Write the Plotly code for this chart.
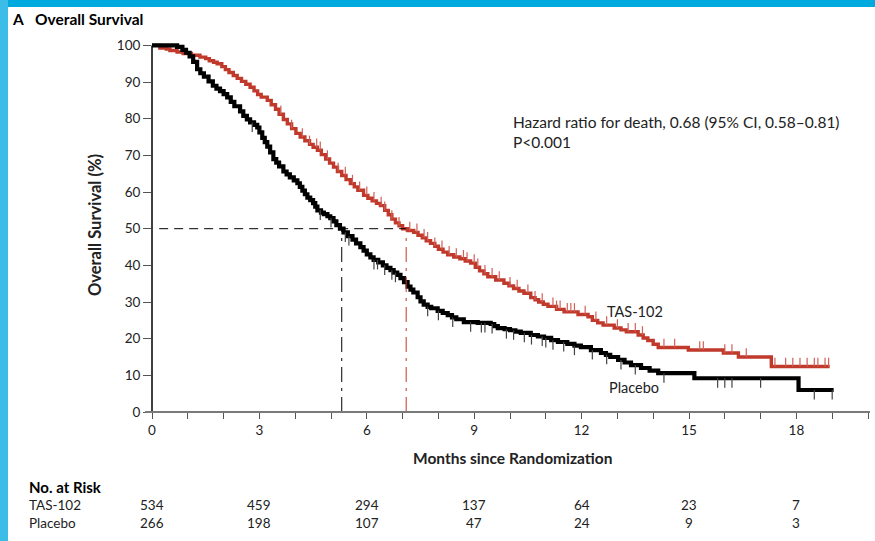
import numpy as np
import plotly.graph_objects as go

# Kaplan-Meier step estimates (months, survival %)
placebo_t = [0, 0.7, 0.85, 0.95, 1.05, 1.15, 1.26, 1.35, 1.45, 1.58, 1.7, 1.8, 1.9, 2.0, 2.1, 2.2,
             2.3, 2.46, 2.55, 2.65, 2.74, 2.85, 2.94, 3.0, 3.08, 3.15, 3.22, 3.3, 3.39, 3.47, 3.55,
             3.67, 3.76, 3.85, 3.96, 4.06, 4.13, 4.2, 4.27, 4.34, 4.42, 4.5, 4.56, 4.62, 4.72, 4.8,
             4.9, 4.98, 5.07, 5.15, 5.25, 5.35, 5.47, 5.6, 5.7, 5.82, 5.91, 6.0, 6.1, 6.19, 6.32,
             6.45, 6.55, 6.66, 6.75, 6.85, 6.94, 7.04, 7.14, 7.22, 7.3, 7.42, 7.5, 7.59, 7.7, 7.8,
             7.98, 8.12, 8.26, 8.38, 8.5, 8.71, 9.1, 9.46, 9.56, 9.66, 9.85, 10.0, 10.15, 10.3,
             10.58, 10.78, 10.95, 11.15, 11.34, 11.6, 11.8, 11.98, 12.26, 12.54, 12.68, 12.8,
             13.02, 13.2, 13.38, 13.66, 13.9, 14.14, 15.15, 18.06, 19.04]
placebo_s = [100, 99.6, 98.8, 98.0, 97.0, 95.5, 93.5, 92.4, 91.5, 90.2, 89.0, 88.2, 87.5, 86.7, 85.8,
             84.6, 83.4, 82.0, 80.8, 79.8, 79.0, 78.3, 77.6, 76.3, 74.8, 73.6, 72.4, 70.8, 69.0,
             68.0, 67.0, 65.6, 64.8, 64.0, 63.2, 62.4, 61.4, 60.4, 59.4, 58.5, 57.8, 57.0, 56.0,
             55.0, 54.4, 54.0, 53.4, 52.9, 52.0, 51.0, 50.0, 49.0, 48.0, 47.0, 46.0, 45.0, 44.0,
             43.0, 42.2, 41.5, 40.8, 40.0, 39.3, 38.7, 38.0, 37.4, 36.5, 35.4, 34.2, 33.4, 32.6,
             31.3, 30.2, 29.3, 28.7, 28.3, 27.6, 27.0, 26.4, 25.8, 25.3, 24.5, 24.3, 24.0, 23.4,
             22.9, 22.6, 22.3, 21.9, 21.6, 21.0, 20.6, 20.2, 19.6, 19.1, 18.6, 18.1, 17.7, 16.9,
             16.1, 15.6, 15.0, 14.2, 13.5, 12.8, 12.0, 11.3, 10.6, 9.2, 6.0, 6.0]

tas_t = [0, 0.22, 0.4, 0.5, 0.7, 0.87, 1.1, 1.34, 1.5, 1.6, 1.72, 1.82, 1.95, 2.05, 2.15, 2.27,
         2.38, 2.5, 2.62, 2.74, 2.85, 2.95, 3.05, 3.22, 3.33, 3.45, 3.55, 3.67, 3.78, 3.9, 4.02,
         4.14, 4.27, 4.4, 4.5, 4.62, 4.73, 4.85, 4.96, 5.07, 5.18, 5.3, 5.42, 5.54, 5.65, 5.75,
         5.91, 6.03, 6.15, 6.27, 6.38, 6.5, 6.6, 6.7, 6.8, 6.9, 7.0, 7.15, 7.31, 7.43, 7.55, 7.66,
         7.78, 7.9, 8.0, 8.13, 8.26, 8.43, 8.6, 8.75, 8.9, 9.03, 9.15, 9.27, 9.38, 9.6, 9.83, 9.97,
         10.1, 10.25, 10.39, 10.58, 10.7, 10.8, 10.93, 11.06, 11.3, 11.51, 11.9, 12.18, 12.3,
         12.45, 12.6, 12.91, 13.1, 13.25, 13.58, 13.72, 13.85, 14.0, 14.14, 14.98, 15.96, 16.38,
         17.3, 18.93]
tas_s = [100, 99.3, 99.0, 98.6, 98.2, 97.8, 97.3, 96.8, 96.4, 95.8, 95.4, 95.0, 94.2, 93.4, 92.6,
         91.8, 91.0, 90.2, 89.4, 88.6, 87.6, 86.6, 85.9, 85.0, 83.8, 82.6, 81.2, 79.8, 78.6, 77.3,
         76.0, 75.0, 74.0, 73.0, 72.2, 71.4, 70.2, 69.0, 67.9, 66.8, 65.6, 64.5, 63.4, 62.3, 61.4,
         60.5, 59.1, 58.3, 57.6, 56.9, 56.3, 55.0, 53.8, 52.6, 51.6, 50.8, 50.0, 49.5, 49.0, 48.2,
         47.5, 46.7, 46.0, 45.2, 44.4, 43.6, 42.9, 42.3, 41.8, 41.2, 40.6, 39.5, 38.5, 37.7, 36.9,
         36.0, 35.1, 34.4, 33.7, 33.0, 32.4, 31.2, 30.6, 30.0, 29.4, 28.8, 28.0, 27.3, 26.6, 26.0,
         25.0, 24.3, 23.7, 22.9, 22.4, 21.9, 21.0, 20.2, 19.5, 18.5, 17.6, 16.9, 16.1, 15.0, 12.4,
         12.4]

# Censoring times
placebo_cens = [2.8, 4.7, 5.0, 5.4, 5.5, 6.2, 6.3, 6.5, 6.7, 6.8, 7.7, 8.0, 8.4, 8.9, 9.2, 9.3,
                9.5, 9.9, 10.1, 10.4, 10.6, 10.9, 11.0, 11.2, 11.5, 11.8, 12.3, 12.7, 13.1, 13.5,
                14.3, 15.8, 16.0, 16.2, 17.0, 18.5, 19.0]
tas_cens = [3.6, 3.9, 4.2, 4.4, 4.6, 4.7, 4.9, 5.2, 5.4, 5.6, 5.8, 6.0, 6.2, 6.4, 6.5, 6.7, 6.9,
            7.2, 7.4, 7.6, 7.7, 7.9, 8.1, 8.3, 8.5, 8.7, 8.8, 9.0, 9.1, 9.3, 9.5, 9.7, 10.0, 10.2,
            10.5, 10.7, 10.9, 11.2, 11.3, 11.4, 11.6, 11.7, 11.8, 12.1, 12.4, 12.7, 13.0, 13.3,
            13.5, 13.7, 14.3, 14.6, 15.3, 15.4, 16.0, 16.2, 16.6, 17.4, 17.7, 17.9, 18.1, 18.3,
            18.5, 18.6, 18.8, 18.9]

median_placebo = 5.3
median_tas = 7.1

risk_months = [0, 3, 6, 9, 12, 15, 18]
risk_tas = [534, 459, 294, 137, 64, 23, 7]
risk_placebo = [266, 198, 107, 47, 24, 9, 3]

RED = "#C0392B"
BLACK = "#000000"
FONT = "Lato"
TXT = "#222222"

# plot-area geometry (pixels) used for paper-coordinate placement of text
L, R, T, B = 152, 7, 41, 129
W, H = 875, 541
PW, PH = W - L - R, H - T - B


def px(x):
    return (x - L) / PW


def py(y):
    return (H - B - y) / PH


def surv_at(ts, ss, t):
    i = np.searchsorted(ts, t, side="right") - 1
    return ss[i]


fig = go.Figure()

fig.add_trace(go.Scatter(x=tas_t, y=tas_s, mode="lines", line=dict(color=RED, width=3.4, shape="hv"),
                         hoverinfo="skip", showlegend=False))
fig.add_trace(go.Scatter(
    x=tas_cens, y=[surv_at(tas_t, tas_s, t) for t in tas_cens], mode="markers",
    marker=dict(size=1, color="rgba(0,0,0,0)"),
    error_y=dict(type="data", symmetric=False, array=[2.4] * len(tas_cens),
                 arrayminus=[0] * len(tas_cens), width=0, thickness=1.2, color="#D0605A"),
    hoverinfo="skip", showlegend=False))

fig.add_trace(go.Scatter(x=placebo_t, y=placebo_s, mode="lines", line=dict(color=BLACK, width=4.2, shape="hv"),
                         hoverinfo="skip", showlegend=False))
fig.add_trace(go.Scatter(
    x=placebo_cens, y=[surv_at(placebo_t, placebo_s, t) for t in placebo_cens], mode="markers",
    marker=dict(size=1, color="rgba(0,0,0,0)"),
    error_y=dict(type="data", symmetric=False, array=[0] * len(placebo_cens),
                 arrayminus=[2.6] * len(placebo_cens), width=0, thickness=1.2, color="#444444"),
    hoverinfo="skip", showlegend=False))

shapes = [
    # median reference lines
    dict(type="line", xref="x", yref="y", x0=0.2, x1=median_tas, y0=50, y1=50,
         line=dict(color=BLACK, width=1, dash="9px,6px")),
    dict(type="line", xref="x", yref="y", x0=median_placebo, x1=median_placebo, y0=0, y1=50,
         line=dict(color=BLACK, width=1, dash="longdashdot")),
    dict(type="line", xref="x", yref="y", x0=median_tas, x1=median_tas, y0=0, y1=50,
         line=dict(color=RED, width=1, dash="longdashdot")),
    # axis lines
    dict(type="line", xref="paper", yref="y", x0=0, x1=0, y0=0, y1=100,
         line=dict(color=BLACK, width=1.5)),
    dict(type="line", xref="paper", yref="paper", x0=px(145), x1=px(870), y0=0, y1=0,
         line=dict(color="#7a7a7a", width=2)),
    # page frame
    dict(type="rect", xref="paper", yref="paper", x0=px(0), x1=px(875), y0=py(0), y1=py(7),
         fillcolor="#00AADF", line=dict(width=0)),
    dict(type="rect", xref="paper", yref="paper", x0=px(0), x1=px(8), y0=py(0), y1=py(541),
         fillcolor="#3CBDE8", line=dict(width=0)),
]

ann = [
    dict(text="<b>A</b>", xref="paper", yref="paper", x=px(10), y=py(19), xanchor="left",
         yanchor="middle", showarrow=False, font=dict(size=15.5, color=BLACK)),
    dict(text="<b>Overall Survival</b>", xref="paper", yref="paper", x=px(33), y=py(19),
         xanchor="left", yanchor="middle", showarrow=False, font=dict(size=15.5, color=BLACK)),
    dict(text="<b>Overall Survival (%)</b>", xref="paper", yref="paper", x=px(95), y=py(225),
         textangle=-90, xanchor="center", yanchor="middle", showarrow=False,
         font=dict(size=16.5, color=TXT)),
    dict(text="<b>Months since Randomization</b>", xref="paper", yref="paper", x=px(512), y=py(458),
         xanchor="center", yanchor="middle", showarrow=False, font=dict(size=15.5, color=TXT)),
    dict(text="Hazard ratio for death, 0.68 (95% CI, 0.58–0.81)<br>P<0.001", xref="paper",
         yref="paper", x=px(511), y=py(132), xanchor="left", yanchor="middle", align="left",
         showarrow=False, font=dict(size=15.5, color=TXT)),
    dict(text="TAS-102", xref="x", yref="y", x=12.65, y=27.5, xanchor="left", yanchor="middle",
         showarrow=False, font=dict(size=14.5, color=TXT)),
    dict(text="Placebo", xref="x", yref="y", x=12.7, y=6.8, xanchor="left", yanchor="middle",
         showarrow=False, font=dict(size=14.5, color=TXT)),
    dict(text="<b>No. at Risk</b>", xref="paper", yref="paper", x=px(27), y=py(487),
         xanchor="left", yanchor="middle", showarrow=False, font=dict(size=15, color=BLACK)),
    dict(text="TAS-102", xref="paper", yref="paper", x=px(27), y=py(505),
         xanchor="left", yanchor="middle", showarrow=False, font=dict(size=13.5, color=TXT)),
    dict(text="Placebo", xref="paper", yref="paper", x=px(27), y=py(523),
         xanchor="left", yanchor="middle", showarrow=False, font=dict(size=13.5, color=TXT)),
]
for m, a, b in zip(risk_months, risk_tas, risk_placebo):
    ann.append(dict(text=str(a), xref="x", yref="paper", x=m, y=py(505), xanchor="center",
                    yanchor="middle", showarrow=False, font=dict(size=13.5, color=TXT)))
    ann.append(dict(text=str(b), xref="x", yref="paper", x=m, y=py(523), xanchor="center",
                    yanchor="middle", showarrow=False, font=dict(size=13.5, color=TXT)))

fig.update_layout(
    width=W, height=H, margin=dict(l=L, r=R, t=T, b=B),
    paper_bgcolor="white", plot_bgcolor="white",
    font=dict(family=FONT, color=TXT),
    shapes=shapes, annotations=ann, showlegend=False,
    xaxis=dict(range=[0, 20], tickvals=[0, 3, 6, 9, 12, 15, 18], ticks="outside", ticklen=6,
               tickwidth=1.2, tickcolor="#555555", showline=False, showgrid=False, zeroline=False,
               tickfont=dict(size=13.5, color=TXT),
               minor=dict(dtick=1, tick0=0, ticks="outside", ticklen=6, tickwidth=1.2,
                          tickcolor="#555555", showgrid=False)),
    yaxis=dict(range=[0, 101.2], tickvals=list(range(0, 101, 10)), ticks="outside", ticklen=8,
               tickwidth=1.2, tickcolor="#555555", showline=False, showgrid=False, zeroline=False,
               tickfont=dict(size=13.5, color=TXT)),
)

fig.write_html("out.html")
